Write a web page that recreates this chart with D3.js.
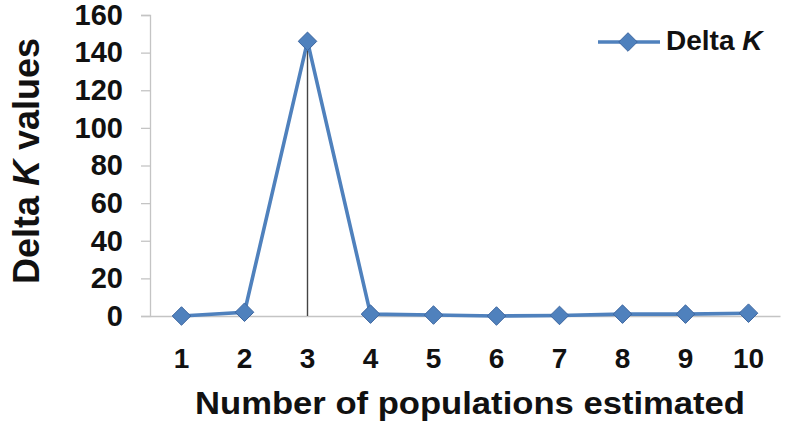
<!DOCTYPE html>
<html><head><meta charset="utf-8">
<script src="https://cdn.jsdelivr.net/npm/d3@7"></script>
<style>body{margin:0;background:#fff}svg{display:block}</style>
</head><body>
<svg id="c" width="789" height="428"></svg>
<script>
const categories = ["1","2","3","4","5","6","7","8","9","10"];
const deltaK = [0, 2, 146, 1, 0.5, 0, 0.3, 1, 1, 1.5];
const yTicks = [0, 20, 40, 60, 80, 100, 120, 140, 160];
const seriesName = "Delta ";

const svg = d3.select("#c");
const font = "'Liberation Sans', Arial, sans-serif";
const x = d3.scaleBand().domain(categories).range([150, 780]);
const y = d3.scaleLinear().domain([0, 160]).range([316, 15]);
const cx = d => x(d) + x.bandwidth() / 2;
const col = "#4f81bd";

// y axis
const ya = svg.append("g").attr("transform", "translate(150,0)")
  .call(d3.axisLeft(y).tickValues(yTicks).tickSize(9).tickPadding(18));
ya.select(".domain").attr("stroke", "#c4c4c4").attr("stroke-width", 1.3);
ya.selectAll(".tick line").attr("stroke", "#c4c4c4").attr("stroke-width", 1.3);
ya.selectAll("text").attr("font-family", font).attr("font-weight", "bold")
  .attr("font-size", 29).attr("fill", "#111");

// x axis
const xa = svg.append("g").attr("transform", "translate(0,316)")
  .call(d3.axisBottom(x).tickSize(0).tickPadding(32));
xa.select(".domain").attr("stroke", "#c4c4c4").attr("stroke-width", 1.3);
xa.selectAll("text").attr("font-family", font).attr("font-size", 28)
  .attr("font-weight", "bold").attr("fill", "#111");

// drop line at peak
const peakIdx = deltaK.indexOf(d3.max(deltaK));
svg.append("line")
  .attr("x1", cx(categories[peakIdx])).attr("x2", cx(categories[peakIdx]))
  .attr("y1", y(deltaK[peakIdx])).attr("y2", y(0))
  .attr("stroke", "#444").attr("stroke-width", 1.4);

// line
const data = categories.map((c, i) => ({c, v: deltaK[i]}));
svg.append("path").datum(data)
  .attr("d", d3.line().x(d => cx(d.c)).y(d => y(d.v)))
  .attr("fill", "none").attr("stroke", col).attr("stroke-width", 3.6);

const diamond = d3.symbol().type(d3.symbolDiamond2).size(220);
svg.selectAll(".pt").data(data).join("path")
  .attr("transform", d => `translate(${cx(d.c)},${y(d.v)})`)
  .attr("d", diamond).attr("fill", col).attr("stroke", "#3d66a0").attr("stroke-width", 1);

// axis titles
svg.append("text").attr("x", 470).attr("y", 414).attr("text-anchor", "middle")
  .attr("font-family", font).attr("font-weight", "bold").attr("font-size", 32).attr("fill", "#111")
  .attr("textLength", 550).attr("lengthAdjust", "spacingAndGlyphs")
  .text("Number of populations estimated");
const yt = svg.append("text").attr("transform", "translate(39,161) rotate(-90)")
  .attr("text-anchor", "middle").attr("font-family", font).attr("font-weight", "bold")
  .attr("font-size", 36).attr("fill", "#111");
yt.append("tspan").text("Delta ");
yt.append("tspan").attr("font-style", "italic").text("K");
yt.append("tspan").text(" values");

// legend
svg.append("line").attr("x1", 598).attr("x2", 660).attr("y1", 42).attr("y2", 42)
  .attr("stroke", col).attr("stroke-width", 3.6);
svg.append("path").attr("transform", "translate(628,42)").attr("d", diamond)
  .attr("fill", col).attr("stroke", "#3d66a0");
const lt = svg.append("text").attr("x", 666).attr("y", 50).attr("font-family", font)
  .attr("font-weight", "bold").attr("font-size", 28).attr("fill", "#111");
lt.append("tspan").text(seriesName);
lt.append("tspan").attr("font-style", "italic").text("K");
</script>
</body></html>
